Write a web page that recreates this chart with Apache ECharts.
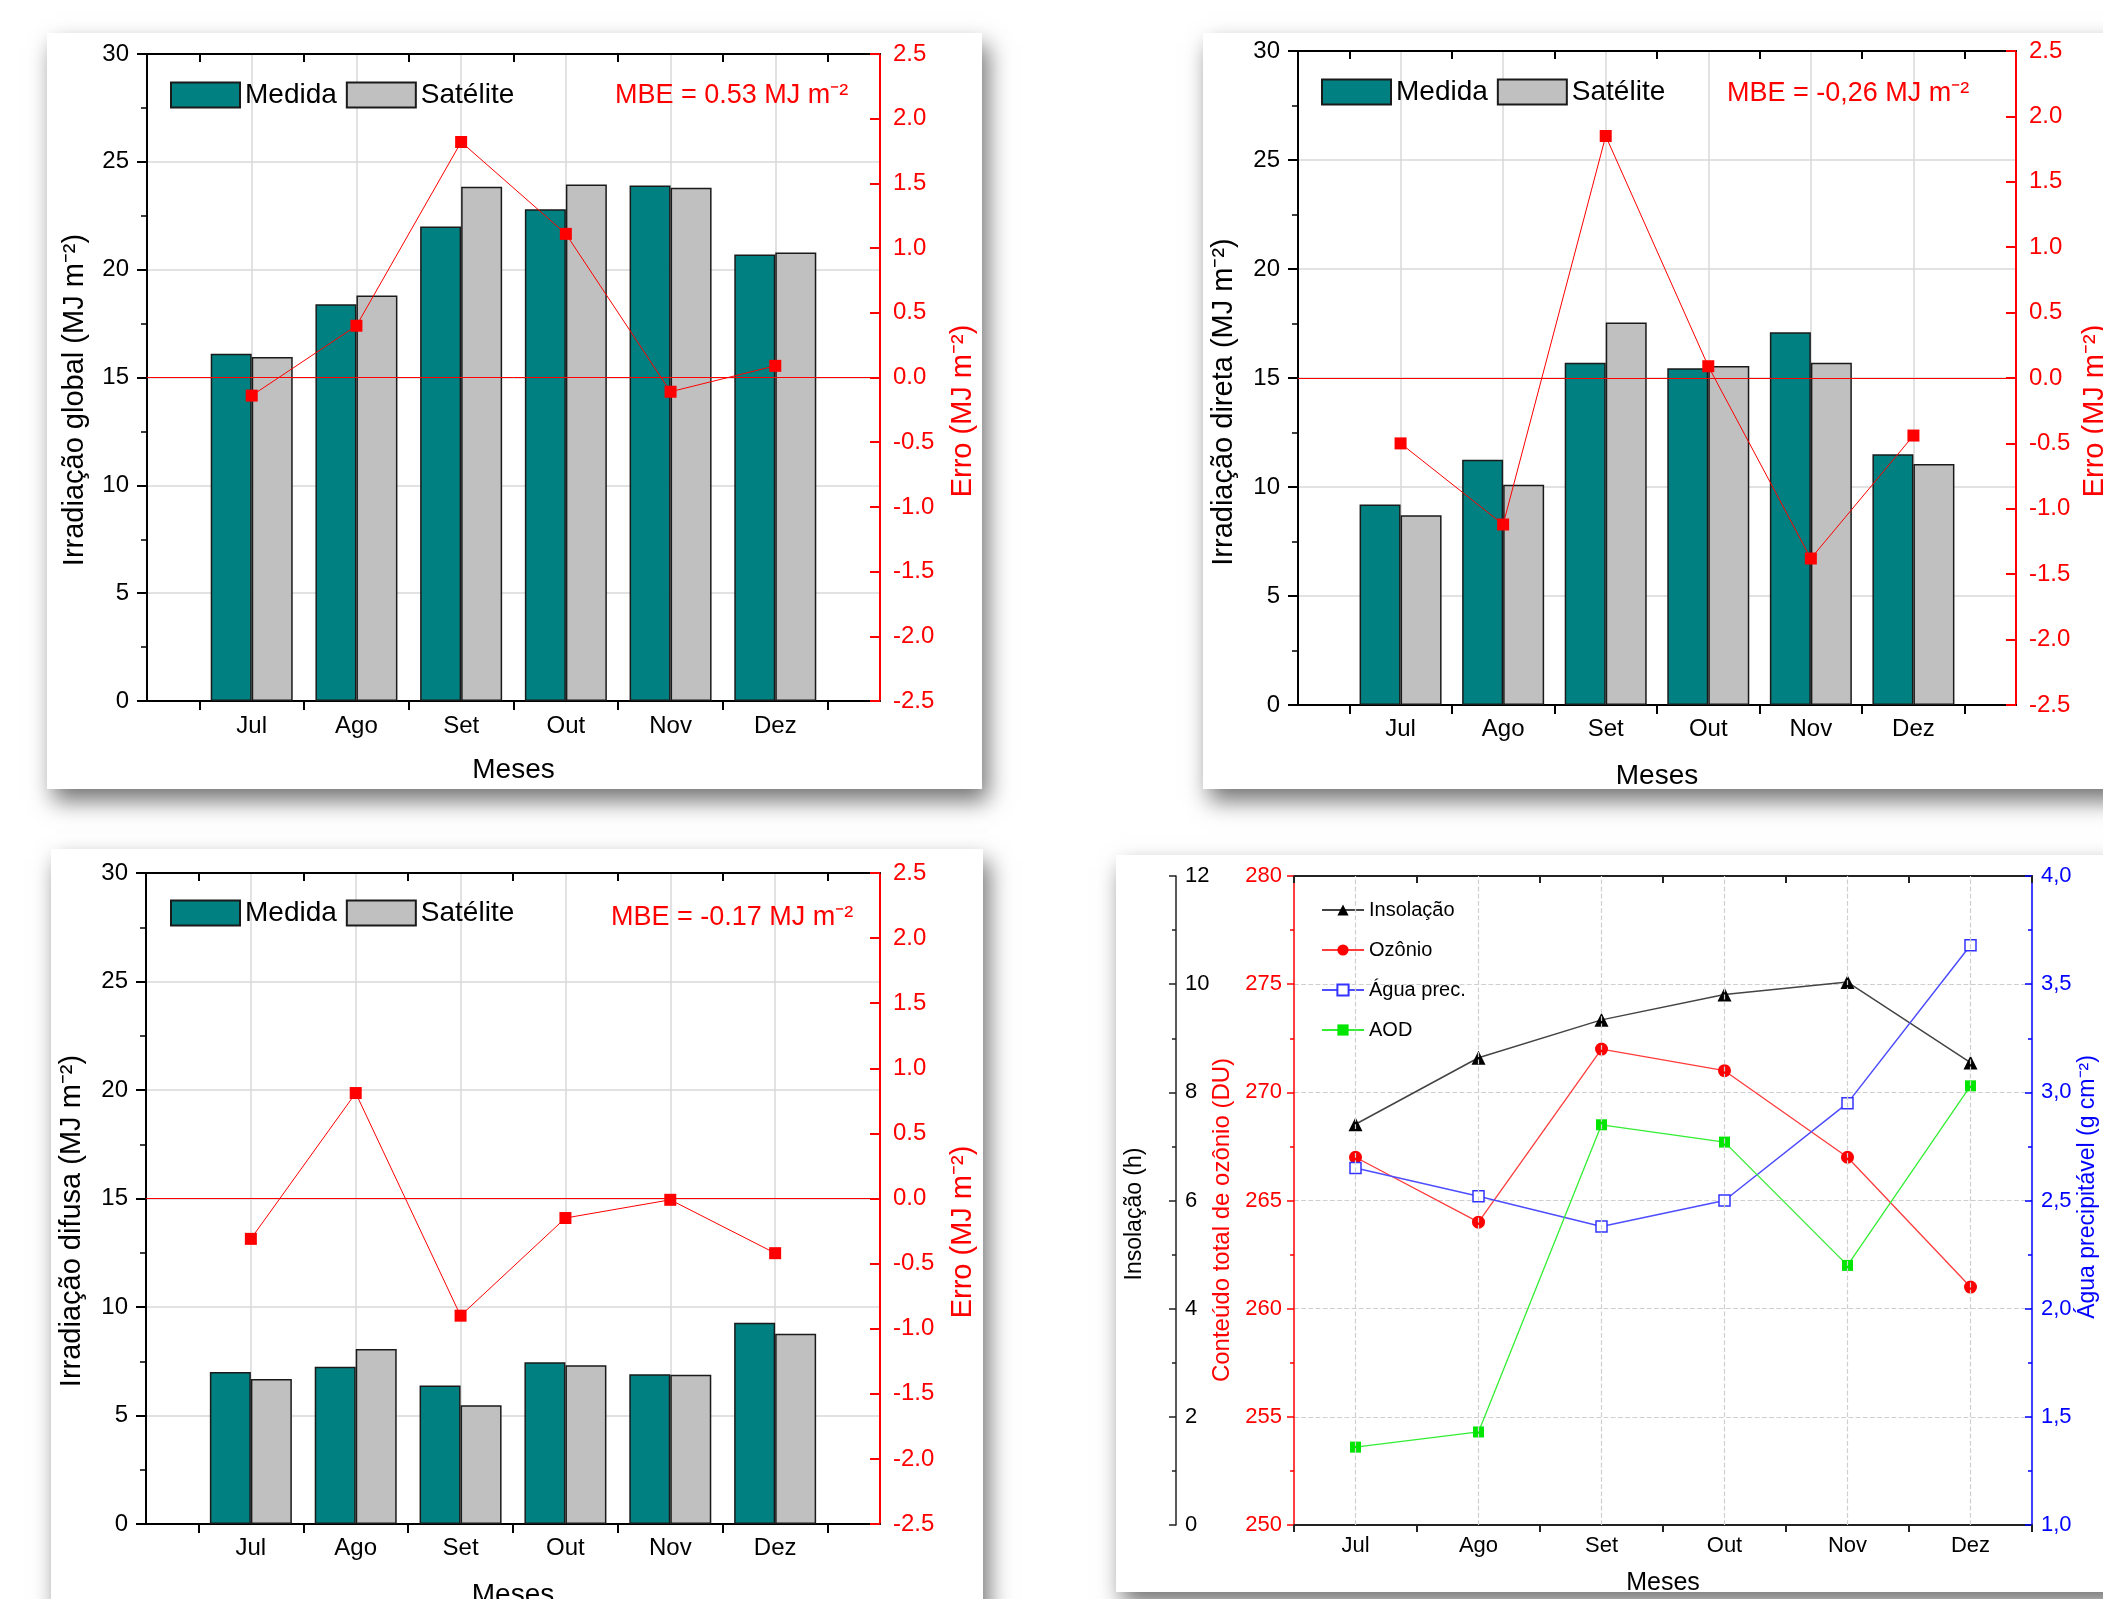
<!DOCTYPE html>
<html lang="pt">
<head>
    <meta charset="UTF-8">
    <title>Irradiação medida x satélite</title>
    <script src="https://cdn.jsdelivr.net/npm/echarts@6.0.0/dist/echarts.min.js"></script>
    <style>
        html, body { margin: 0; padding: 0; background: #fff; }
        #chart { width: 2103px; height: 1599px; }
    </style>
</head>
<body>
    <div id="chart"></div>
    <script>
        // meses
        const meses = ['Jul', 'Ago', 'Set', 'Out', 'Nov', 'Dez'];

        // irradiação global (MJ m-2) e erro
        const globalMedida = [16.1, 18.4, 22.0, 22.8, 23.9, 20.7];
        const globalSatelite = [15.95, 18.8, 23.85, 23.95, 23.8, 20.8];
        const globalErro = [-0.14, 0.40, 1.82, 1.11, -0.11, 0.09];

        // irradiação direta
        const diretaMedida = [9.2, 11.25, 15.7, 15.45, 17.1, 11.5];
        const diretaSatelite = [8.7, 10.1, 17.55, 15.55, 15.7, 11.05];
        const diretaErro = [-0.50, -1.12, 1.85, 0.09, -1.38, -0.44];

        // irradiação difusa
        const difusaMedida = [7.0, 7.25, 6.38, 7.45, 6.9, 9.27];
        const difusaSatelite = [6.68, 8.07, 5.47, 7.32, 6.88, 8.77];
        const difusaErro = [-0.31, 0.81, -0.90, -0.15, -0.01, -0.42];

        // variáveis atmosféricas
        const insolacao = [7.41, 8.64, 9.34, 9.81, 10.04, 8.55];
        const ozonio = [267.0, 264.0, 272.0, 271.0, 267.0, 261.0];
        const aguaPrec = [2.65, 2.52, 2.38, 2.50, 2.95, 3.68];
        const aod = [0.144, 0.172, 0.740, 0.708, 0.480, 0.812];

        const narrow = '"Liberation Sans Narrow", "Arial Narrow", "Liberation Sans", sans-serif';
        const regular = '"Liberation Sans", Arial, sans-serif';

        const chart = echarts.init(document.getElementById('chart'));

        const grids = [];
        const xAxes = [];
        const yAxes = [];
        const series = [];
        const legends = [];
        const graphics = [];

        // cartões com sombra
        const cards = [
            [47, 33, 935, 756],
            [1203, 33, 930, 756],
            [51, 849, 932, 790],
            [1116, 855, 1010, 737]
        ];
        cards.forEach(c => {
            graphics.push({
                type: 'rect', z: -10,
                shape: { x: c[0], y: c[1], width: c[2], height: c[3] },
                style: { fill: '#fff', shadowBlur: 22, shadowColor: 'rgba(0,0,0,0.55)', shadowOffsetX: 6, shadowOffsetY: 12 }
            });
        });

        function tituloVertical(x, y, text, color, size) {
            graphics.push({
                type: 'text', z: 10, x: x, y: y, rotation: Math.PI / 2,
                style: { text: text, fill: color, fontSize: size, fontFamily: regular, align: 'center', verticalAlign: 'middle' }
            });
        }

        // posições no eixo x: meses em 1..6, ticks entre eles
        const posMeses = meses.map((m, i) => i + 1);
        const posTicks = [0.5].concat(meses.map((m, i) => i + 1.5));

        function painelBarras(p) {
            const g = grids.length;
            grids.push(Object.assign({ outerBoundsMode: 'none', containLabel: false }, p.grid));
            const xi = xAxes.length;
            xAxes.push({
                gridIndex: g, type: 'value', min: 0, max: 7, position: 'bottom',
                axisLine: { show: true, onZero: false, lineStyle: { color: '#000', width: 2 } },
                axisTick: { show: true, customValues: posTicks, length: 9, lineStyle: { color: '#000', width: 2 } },
                axisLabel: {
                    customValues: posMeses, formatter: v => meses[Math.round(v) - 1] || '',
                    margin: p.labelMargin, color: '#000', fontSize: 24, fontFamily: narrow
                },
                splitLine: { show: false },
                name: 'Meses', nameLocation: 'middle', nameGap: p.nameGap,
                nameTextStyle: { color: '#000', fontSize: 28, fontFamily: narrow }
            });
            xAxes.push({
                gridIndex: g, type: 'value', min: 0, max: 7, position: 'top',
                axisLine: { show: true, onZero: false, lineStyle: { color: '#000', width: 2 } },
                axisTick: { show: true, inside: true, customValues: posTicks, length: 8, lineStyle: { color: '#000', width: 2 } },
                axisLabel: { show: false },
                splitLine: { show: false }
            });
            // linhas de grade verticais
            xAxes.push({
                gridIndex: g, type: 'value', min: 0, max: 7, interval: 1, position: 'bottom',
                axisLine: { show: false, onZero: false },
                axisTick: { show: false },
                axisLabel: { show: false },
                splitLine: { show: true, lineStyle: { color: '#d9d9d9', width: 1.5 } }
            });
            const yi = yAxes.length;
            yAxes.push({
                gridIndex: g, type: 'value', min: 0, max: 30, interval: 5, position: 'left',
                axisLine: { show: true, onZero: false, lineStyle: { color: '#000', width: 2 } },
                axisTick: { show: true, length: 10, lineStyle: { color: '#000', width: 2 } },
                minorTick: { show: true, splitNumber: 2, length: 6, lineStyle: { color: '#000', width: 1.5 } },
                axisLabel: { margin: 18, color: '#000', fontSize: 24, fontFamily: narrow },
                splitLine: { show: true, lineStyle: { color: '#d9d9d9', width: 1.5 } }
            });
            yAxes.push({
                gridIndex: g, type: 'value', min: -2.5, max: 2.5, interval: 0.5, position: 'right',
                axisLine: { show: true, onZero: false, lineStyle: { color: '#ff0000', width: 2 } },
                axisTick: { show: true, inside: true, length: 10, lineStyle: { color: '#ff0000', width: 2 } },
                axisLabel: { margin: 13, color: '#ff0000', fontSize: 24, fontFamily: narrow, formatter: v => v.toFixed(1) },
                splitLine: { show: false }
            });
            series.push({
                name: 'Medida', type: 'bar', xAxisIndex: xi, yAxisIndex: yi,
                data: p.medida.map((v, i) => [posMeses[i], v]),
                barWidth: 41, barGap: '0%',
                itemStyle: { color: '#008080', borderColor: '#1a1a1a', borderWidth: 1.5 }
            });
            series.push({
                name: 'Satélite', type: 'bar', xAxisIndex: xi, yAxisIndex: yi,
                data: p.satelite.map((v, i) => [posMeses[i], v]),
                barWidth: 41, barGap: '0%',
                itemStyle: { color: '#c0c0c0', borderColor: '#1a1a1a', borderWidth: 1.5 }
            });
            series.push({
                name: 'Erro', type: 'line', xAxisIndex: xi, yAxisIndex: yi + 1, z: 5,
                data: p.erro.map((v, i) => [posMeses[i], v]),
                symbol: 'rect', symbolSize: 12,
                lineStyle: { color: '#ff0000', width: 1 },
                itemStyle: { color: '#ff0000' },
                markLine: {
                    silent: true, symbol: 'none', label: { show: false },
                    lineStyle: { color: '#ff0000', width: 1, type: 'solid' },
                    data: [{ yAxis: 0 }]
                }
            });
            legends.push({
                left: p.legend[0], top: p.legend[1], padding: 0, itemWidth: 69, itemHeight: 25, itemGap: 9,
                icon: 'rect', selectedMode: false,
                textStyle: { color: '#000', fontSize: 28, fontFamily: narrow },
                data: ['Medida', 'Satélite']
            });
            graphics.push({
                type: 'text', z: 10, x: p.mbe[0], y: p.mbe[1],
                style: { text: p.mbe[2], fill: '#ff0000', fontSize: 27, fontFamily: narrow, align: 'left', verticalAlign: 'middle' }
            });
            tituloVertical(p.tituloEsq[0], p.tituloEsq[1], p.tituloEsq[2], '#000', 29);
            tituloVertical(p.tituloDir[0], p.tituloDir[1], 'Erro (MJ m⁻²)', '#ff0000', 29);
        }

        painelBarras({
            grid: { left: 147, top: 54, width: 733, height: 647 },
            medida: globalMedida, satelite: globalSatelite, erro: globalErro,
            labelMargin: 13, nameGap: 55, legend: [170, 81],
            mbe: [615, 96, 'MBE = 0.53 MJ m⁻²'],
            tituloEsq: [75, 400, 'Irradiação global (MJ m⁻²)'],
            tituloDir: [963, 411]
        });
        painelBarras({
            grid: { left: 1298, top: 51, width: 718, height: 654 },
            medida: diretaMedida, satelite: diretaSatelite, erro: diretaErro,
            labelMargin: 12, nameGap: 57, legend: [1321, 78],
            mbe: [1727, 94, 'MBE = -0,26 MJ m⁻²'],
            tituloEsq: [1224, 402, 'Irradiação direta (MJ m⁻²)'],
            tituloDir: [2095, 411]
        });
        painelBarras({
            grid: { left: 146, top: 873, width: 734, height: 651 },
            medida: difusaMedida, satelite: difusaSatelite, erro: difusaErro,
            labelMargin: 12, nameGap: 57, legend: [170, 899],
            mbe: [611, 918, 'MBE = -0.17 MJ m⁻²'],
            tituloEsq: [72, 1221, 'Irradiação difusa (MJ m⁻²)'],
            tituloDir: [963, 1232]
        });

        // painel 4: insolação, ozônio, água precipitável e AOD
        const g4 = grids.length;
        grids.push({ left: 1294, top: 876, width: 738, height: 649, outerBoundsMode: 'none', containLabel: false });
        const x4 = xAxes.length;
        xAxes.push({
            gridIndex: g4, type: 'category', data: meses, boundaryGap: true, position: 'bottom',
            axisLine: { show: true, onZero: false, lineStyle: { color: '#222', width: 2 } },
            axisTick: { show: true, length: 7, lineStyle: { color: '#222', width: 2 } },
            axisLabel: { margin: 10, color: '#000', fontSize: 22, fontFamily: narrow },
            splitLine: { show: false },
            name: 'Meses', nameLocation: 'middle', nameGap: 46,
            nameTextStyle: { color: '#000', fontSize: 25, fontFamily: narrow }
        });
        xAxes.push({
            gridIndex: g4, type: 'category', data: meses, boundaryGap: true, position: 'top',
            axisLine: { show: true, onZero: false, lineStyle: { color: '#222', width: 2 } },
            axisTick: { show: true, inside: true, length: 7, lineStyle: { color: '#222', width: 2 } },
            axisLabel: { show: false },
            splitLine: { show: false }
        });
        const y4 = yAxes.length;
        yAxes.push({
            gridIndex: g4, type: 'value', min: 250, max: 280, interval: 5, position: 'left',
            axisLine: { show: true, onZero: false, lineStyle: { color: '#ff0000', width: 1.5 } },
            axisTick: { show: true, length: 7, lineStyle: { color: '#ff0000', width: 1.5 } },
            minorTick: { show: true, splitNumber: 2, length: 4, lineStyle: { color: '#ff0000', width: 1.5 } },
            axisLabel: { margin: 12, color: '#ff0000', fontSize: 22, fontFamily: narrow },
            splitLine: { show: true, lineStyle: { color: '#cfcfcf', width: 1.2, type: 'dashed' } }
        });
        yAxes.push({
            gridIndex: g4, type: 'value', min: 0, max: 12, interval: 2, position: 'left', offset: 118,
            axisLine: { show: true, onZero: false, lineStyle: { color: '#222', width: 1.5 } },
            axisTick: { show: true, length: 7, lineStyle: { color: '#222', width: 1.5 } },
            minorTick: { show: true, splitNumber: 2, length: 4, lineStyle: { color: '#222', width: 1.5 } },
            axisLabel: { inside: true, margin: 9, color: '#000', fontSize: 22, fontFamily: narrow },
            splitLine: { show: false }
        });
        yAxes.push({
            gridIndex: g4, type: 'value', min: 1, max: 4, interval: 0.5, position: 'right',
            axisLine: { show: true, onZero: false, lineStyle: { color: '#0000ff', width: 1.5 } },
            axisTick: { show: true, inside: true, length: 7, lineStyle: { color: '#0000ff', width: 1.5 } },
            minorTick: { show: true, splitNumber: 2, length: 4, lineStyle: { color: '#0000ff', width: 1.5 } },
            axisLabel: { margin: 9, color: '#0000ff', fontSize: 22, fontFamily: narrow, formatter: v => v.toFixed(1).replace('.', ',') },
            splitLine: { show: false }
        });
        yAxes.push({
            gridIndex: g4, type: 'value', min: 0, max: 1.2, show: false
        });

        series.push({
            name: 'Insolação', type: 'line', xAxisIndex: x4, yAxisIndex: y4 + 1, data: insolacao,
            symbol: 'triangle', symbolSize: 14,
            lineStyle: { color: '#444', width: 1.5 },
            itemStyle: { color: '#000' },
            markLine: {
                silent: true, symbol: 'none', label: { show: false },
                lineStyle: { color: '#cfcfcf', width: 1.2, type: 'dashed' },
                data: meses.map(m => ({ xAxis: m }))
            }
        });
        series.push({
            name: 'Ozônio', type: 'line', xAxisIndex: x4, yAxisIndex: y4, data: ozonio,
            symbol: 'circle', symbolSize: 13,
            lineStyle: { color: '#ff3b3b', width: 1.3 },
            itemStyle: { color: '#ff0000' }
        });
        series.push({
            name: 'Água prec.', type: 'line', xAxisIndex: x4, yAxisIndex: y4 + 2, data: aguaPrec,
            symbol: 'rect', symbolSize: 11,
            lineStyle: { color: '#4d4dff', width: 1.5 },
            itemStyle: { color: '#fff', borderColor: '#3333ff', borderWidth: 1.5 }
        });
        series.push({
            name: 'AOD', type: 'line', xAxisIndex: x4, yAxisIndex: y4 + 3, data: aod,
            symbol: 'rect', symbolSize: 11,
            lineStyle: { color: '#33ee33', width: 1.3 },
            itemStyle: { color: '#00e600' }
        });
        legends.push({
            orient: 'vertical', left: 1321, top: 900, padding: 0, itemWidth: 42, itemHeight: 14, itemGap: 20,
            selectedMode: false,
            textStyle: { color: '#000', fontSize: 20, fontFamily: narrow },
            data: ['Insolação', 'Ozônio', 'Água prec.', 'AOD']
        });
        tituloVertical(1135, 1214, 'Insolação (h)', '#000', 23);
        tituloVertical(1222, 1220, 'Conteúdo total de ozônio (DU)', '#ff0000', 24);
        tituloVertical(2088, 1187, 'Água precipitável (g cm⁻²)', '#0000ff', 23);

        chart.setOption({
            backgroundColor: '#fff',
            animation: false,
            grid: grids,
            xAxis: xAxes,
            yAxis: yAxes,
            legend: legends,
            series: series,
            graphic: { elements: graphics }
        });
    </script>
</body>
</html>
